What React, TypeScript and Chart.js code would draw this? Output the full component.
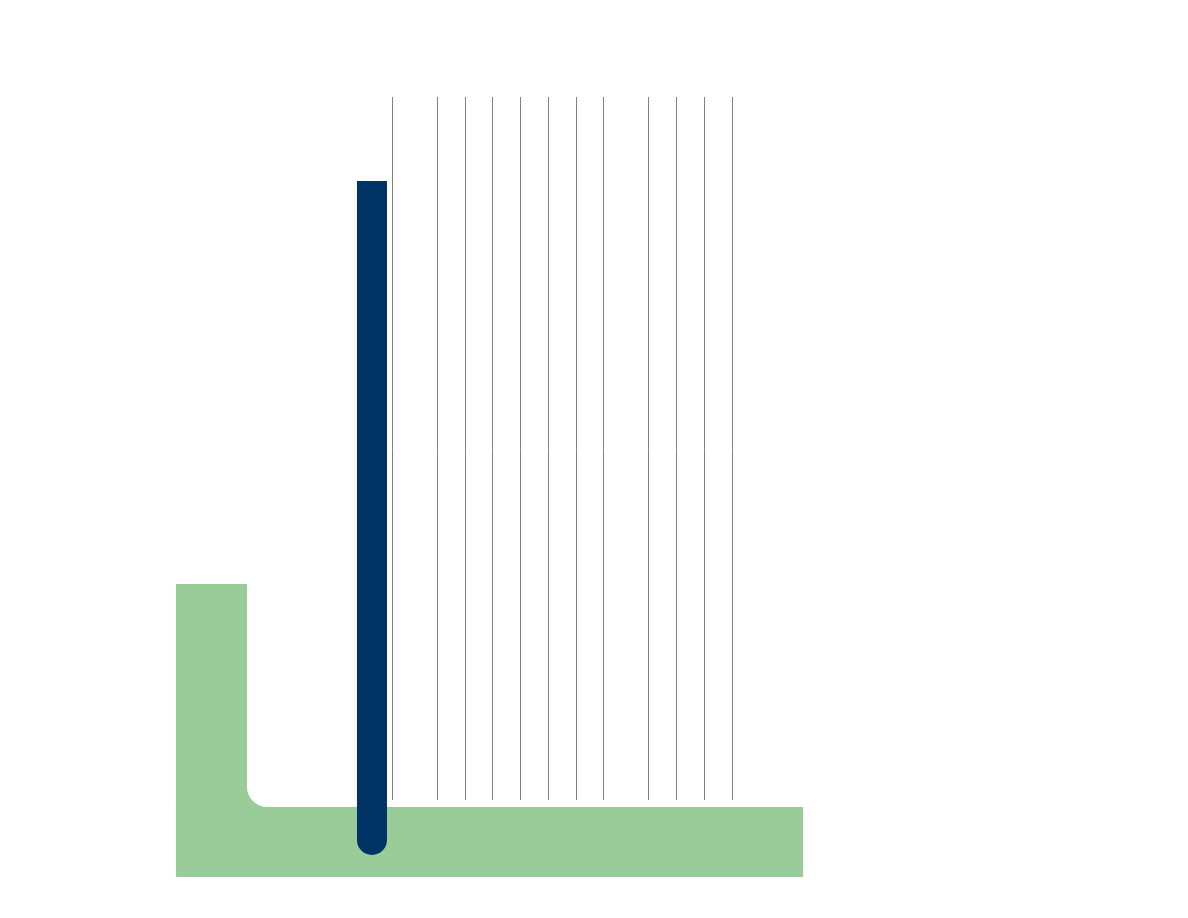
import React, { useEffect, useRef } from "react";
import { Chart, registerables } from "chart.js";

Chart.register(...registerables);

// Vertical grid positions (x-axis values)
const gridTicks = [0, 1.6, 2.62, 3.6, 4.6, 5.6, 6.6, 7.57, 9.2, 10.2, 11.2, 12.2];
const xRange = [-7.768, 14.73];
const yRange = [0, 100];

// Bars: centre on x, [low, high] on y
const blueBarX = [-0.736];
const blueBarRange = [-7.82, 88.05];
const greenColumnX = [-6.495];
const greenColumnRange = [-10.95, 30.73];
const greenBaseX = [3.48];
const greenBaseRange = [-10.95, -1.0];
const greenFrameX = [3.48];
const greenFrameRange = [-10.95, 30.73];

const BLUE = "#003366";
const GREEN = "#99cc99";

export default function App() {
  const ref = useRef<HTMLCanvasElement | null>(null);

  useEffect(() => {
    if (!ref.current) return;
    const common = {
      stack: "s",
      borderSkipped: false as const,
      inflateAmount: 0,
      clip: false as const,
    };
    const chart = new Chart(ref.current, {
      type: "bar",
      data: {
        datasets: [
          {
            ...common,
            label: "blue",
            data: blueBarX.map((x) => ({ x, y: blueBarRange })) as any,
            backgroundColor: BLUE,
            barThickness: 30,
            borderRadius: { topLeft: 0, topRight: 0, bottomLeft: 15, bottomRight: 15 },
          },
          {
            ...common,
            label: "greenColumn",
            data: greenColumnX.map((x) => ({ x, y: greenColumnRange })) as any,
            backgroundColor: GREEN,
            barThickness: 71,
          },
          {
            ...common,
            label: "greenBase",
            data: greenBaseX.map((x) => ({ x, y: greenBaseRange })) as any,
            backgroundColor: GREEN,
            barThickness: 627,
          },
          {
            ...common,
            label: "greenFrame",
            data: greenFrameX.map((x) => ({ x, y: greenFrameRange })) as any,
            backgroundColor: "rgba(0,0,0,0)",
            borderColor: GREEN,
            borderWidth: { top: 0, right: 0, bottom: 70, left: 71 },
            borderRadius: { topLeft: 0, topRight: 0, bottomLeft: 91, bottomRight: 0 },
            barThickness: 627,
          },
        ],
      },
      options: {
        animation: false,
        responsive: false,
        maintainAspectRatio: false,
        devicePixelRatio: 1,
        layout: { padding: { left: 168, right: 377, top: 89, bottom: 110 } },
        plugins: { legend: { display: false }, tooltip: { enabled: false }, title: { display: false } },
        scales: {
          x: {
            type: "linear",
            min: xRange[0],
            max: xRange[1],
            stacked: true,
            offset: false,
            grid: { color: "#808080", lineWidth: 1, drawTicks: false, offset: false },
            border: { display: false },
            ticks: { display: false },
            afterBuildTicks: (scale: any) => {
              scale.ticks = gridTicks.map((v) => ({ value: v }));
            },
          },
          y: {
            type: "linear",
            display: false,
            min: yRange[0],
            max: yRange[1],
            stacked: false,
          },
        },
      } as any,
    });
    return () => chart.destroy();
  }, []);

  return (
    <div style={{ width: 1172, height: 902, position: "relative" }}>
      <canvas ref={ref} width={1172} height={902} style={{ display: "block" }} />
    </div>
  );
}
